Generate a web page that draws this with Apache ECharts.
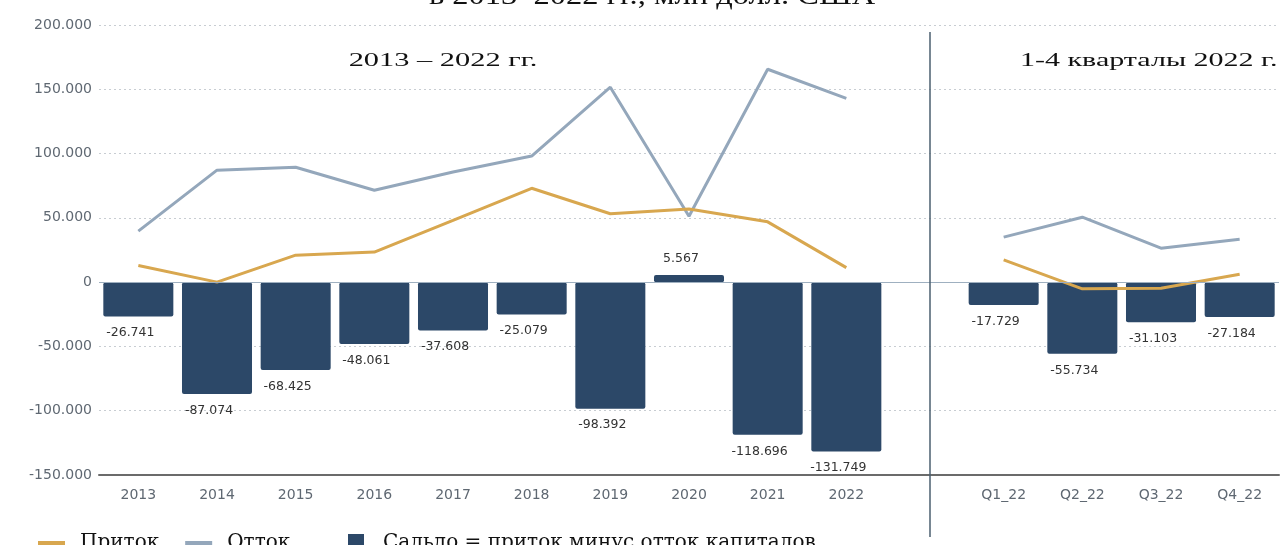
<!DOCTYPE html>
<html><head><meta charset="utf-8">
<script src="https://cdn.jsdelivr.net/npm/echarts@6/dist/echarts.min.js"></script>
<style>html,body{margin:0;padding:0;background:#fff}#c{width:1280px;height:545px}</style>
</head><body><div id="c"></div>
<script>
const categories = ['2013','2014','2015','2016','2017','2018','2019','2020','2021','2022','','Q1_22','Q2_22','Q3_22','Q4_22'];
const inflow  = [13000, 0, 21000, 23400, 48000, 73000, 53200, 56900, 46900, 11300, null, 17300, -5200, -4700, 6200];
const outflow = [39700, 87100, 89400, 71500, 85600, 98100, 151600, 51300, 165600, 143000, null, 35000, 50500, 26400, 33400];
const saldo   = [-26741, -87074, -68425, -48061, -37608, -25079, -98392, 5567, -118696, -131749, null, -17729, -55734, -31103, -27184];
const yTicks = {min: -150000, max: 200000, interval: 50000};
const titleText = 'в 2013–2022 гг., млн долл. США';
const leftNote = '2013 – 2022 гг.';
const rightNote = '1-4 кварталы 2022 г.';
const names = ['Приток', 'Отток', 'Сальдо = приток минус отток капиталов'];

function fmt(v){
  const s = Math.abs(Math.round(v)).toString().replace(/\B(?=(\d{3})+(?!\d))/g, '.');
  return (v < 0 ? '-' : '') + s;
}
const serif = '"Liberation Serif", "DejaVu Serif", serif';
const wideSerif = '"DejaVu Serif", serif';
const sans = '"DejaVu Sans", sans-serif';

const chart = echarts.init(document.getElementById('c'));
const option = {
  animation: false,
  grid: {left: 99, right: 1, top: 25, bottom: 70},
  xAxis: {
    type: 'category', data: categories,
    axisLine: {onZero: false, lineStyle: {color: '#6b6b6b', width: 2}},
    axisTick: {show: false},
    axisLabel: {color: '#5f6872', fontSize: 14, fontFamily: sans, margin: 13}
  },
  yAxis: {
    type: 'value', min: yTicks.min, max: yTicks.max, interval: yTicks.interval,
    axisLine: {show: false}, axisTick: {show: false},
    axisLabel: {color: '#5f6872', fontSize: 14, fontFamily: sans, formatter: fmt, margin: 7},
    splitLine: {lineStyle: {color: '#c8cdd2', type: [2, 3], width: 1}}
  },
  legend: [
    {left: 33, top: 528, itemWidth: 27, itemHeight: 4, itemGap: 26, icon: 'rect',
     data: [names[0], names[1]],
     textStyle: {fontFamily: wideSerif, fontSize: 20, color: '#111', padding: [0, 0, 0, 10]}},
    {left: 343, top: 528, itemWidth: 16, itemHeight: 18, icon: 'rect',
     data: [names[2]],
     textStyle: {fontFamily: wideSerif, fontSize: 20, color: '#111', padding: [0, 0, 0, 14]}}
  ],
  series: [
    {
      name: names[2], type: 'bar', data: saldo.map(v => v == null ? null : {
        value: v, label: {position: v >= 0 ? 'top' : 'bottom'}
      }),
      barCategoryGap: '11%',
      itemStyle: {color: '#2c4868', borderRadius: 2},
      label: {show: true, formatter: p => fmt(p.value), color: '#333', fontSize: 12.5, fontFamily: sans, distance: 10, offset: [-8, 0]},
      markLine: {silent: true, symbol: 'none', label: {show: false},
        lineStyle: {color: '#9fb0c0', type: 'solid', width: 1}, data: [{yAxis: 0}]},
      z: 2
    },
    {name: names[1], type: 'line', data: outflow, showSymbol: false, connectNulls: false,
     lineStyle: {color: '#94a7bb', width: 3}, itemStyle: {color: '#94a7bb'}, z: 3},
    {name: names[0], type: 'line', data: inflow, showSymbol: false, connectNulls: false,
     lineStyle: {color: '#d8a74f', width: 3}, itemStyle: {color: '#d8a74f'}, z: 4}
  ]
};
chart.setOption(option);
const sepX = chart.convertToPixel({xAxisIndex: 0}, '') + 5;
chart.setOption({
  graphic: [
    {type: 'line', shape: {x1: sepX, y1: 32, x2: sepX, y2: 537}, style: {stroke: '#4b5f6f', lineWidth: 1.5}, z: 10},
    {type: 'text', x: 652, y: -3, scaleX: 1.16, style: {text: titleText, font: '28px ' + serif, fill: '#111', textAlign: 'center', textVerticalAlign: 'middle'}},
    {type: 'text', x: 443, y: 61, scaleX: 1.6, style: {text: leftNote, font: '19px ' + serif, fill: '#111', textAlign: 'center', textVerticalAlign: 'middle'}},
    {type: 'text', x: 1020, y: 61, scaleX: 1.58, style: {text: rightNote, font: '19px ' + serif, fill: '#111', textAlign: 'left', textVerticalAlign: 'middle'}}
  ]
});
</script></body></html>
